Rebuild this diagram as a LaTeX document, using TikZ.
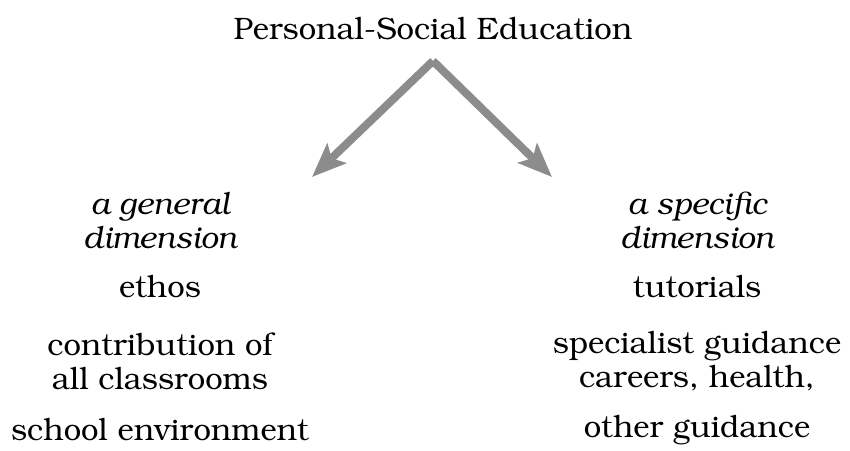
\documentclass[tikz,border=0pt]{standalone}
\usepackage[T1]{fontenc}
\usepackage{bookman}
\usepackage{tikz}
\usetikzlibrary{arrows.meta}
\definecolor{arrowgray}{RGB}{140, 140, 140}
\tikzset{
    item/.style={align=center, font=\fontsize{31}{34}\selectfont, inner sep=0pt},
    dimhead/.style={item, font=\fontsize{31}{34}\selectfont\itshape},
    branch/.style={draw=arrowgray, line width=8pt, -{Stealth[length=34pt, width=27pt, inset=7pt]}}
}
\begin{document}
\begin{tikzpicture}[x=1pt, y=1pt]
    \useasboundingbox (0,0) rectangle (850,450);
    \node[item] (pse) at (433,421) {Personal-Social Education};
    \coordinate (apex) at (433,389);
    \coordinate (gentip) at (312,273);
    \coordinate (spectip) at (552,273);
    \draw[branch] (apex) -- (gentip);
    \draw[branch] (apex) -- (spectip);
    \node[dimhead] (general) at (160,230) {a general\\dimension};
    \node[item] (ethos) at (160,163) {ethos};
    \node[item] (contrib) at (160,89) {contribution of\\all classrooms};
    \node[item] (environ) at (160,20) {school environment};
    \node[dimhead] (specific) at (697,230) {a specific\\dimension};
    \node[item] (tutorials) at (697,163) {tutorials};
    \node[item] (specialist) at (697,89) {specialist guidance\\careers, health,};
    \node[item] (otherg) at (697,20) {other guidance};
\end{tikzpicture}
\end{document}
